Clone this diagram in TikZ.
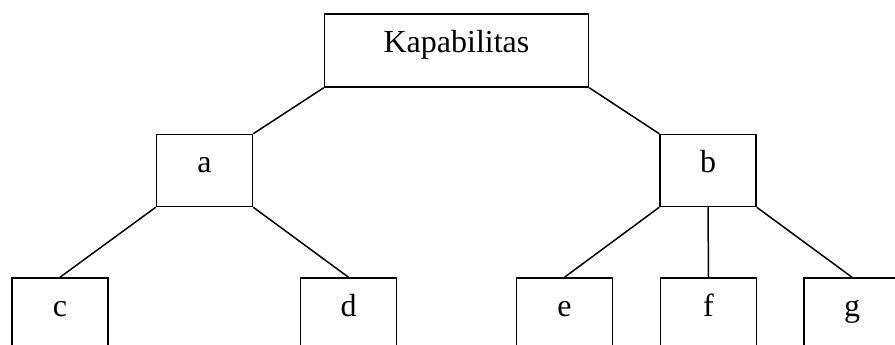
\documentclass[tikz,border=0pt]{standalone}
\usepackage{fontspec}
\setmainfont{Liberation Serif}
\begin{document}
\begin{tikzpicture}[x=1pt,y=1pt,
  box/.style={draw, line width=1.5pt, rectangle, inner sep=0pt, minimum width=96pt, minimum height=72pt,
    font=\fontsize{32}{36}\selectfont, text height=0.64em, text depth=0.2em},
  link/.style={line width=1.5pt}]
\useasboundingbox (0,0) rectangle (895,-345);
\clip (0,0) rectangle (895,-345);
\node[box, minimum width=264pt, minimum height=73pt] (top) at (456.5,-50.5) {Kapabilitas};
\node[box] (a) at (204.5,-170.5) {a};
\node[box] (b) at (708,-170.5) {b};
\node[box] (c) at (60,-314) {c};
\node[box] (d) at (348.5,-314) {d};
\node[box] (e) at (564.5,-314) {e};
\node[box] (f) at (708.5,-314) {f};
\node[box] (g) at (852,-314) {g};
\draw[link] (top.south west) -- (a.north east);
\draw[link] (top.south east) -- (b.north west);
\draw[link] (a.south west) -- (c.north);
\draw[link] (a.south east) -- (d.north);
\draw[link] (b.south west) -- (e.north);
\draw[link] (b.south) -- (f.north);
\draw[link] (b.south east) -- (g.north);
\end{tikzpicture}
\end{document}
